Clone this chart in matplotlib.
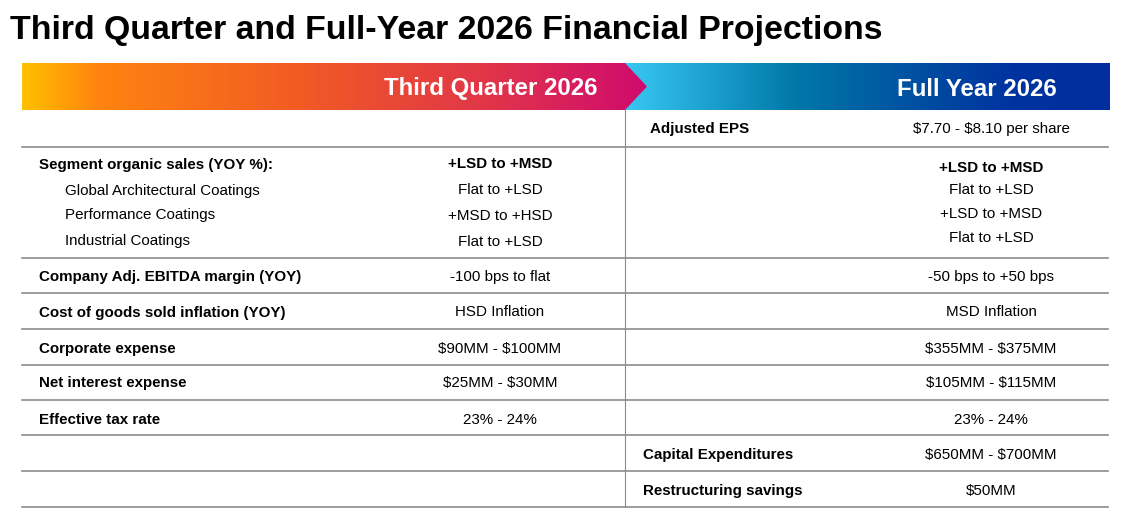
import numpy as np
import matplotlib
matplotlib.use("Agg")
import matplotlib.pyplot as plt
from matplotlib.colors import LinearSegmentedColormap
from matplotlib.patches import Polygon

plt.rcParams["font.family"] = ["Liberation Sans", "DejaVu Sans"]
plt.rcParams["text.parse_math"] = False

# Data
title = "Third Quarter and Full-Year 2026 Financial Projections"
q3_header = "Third Quarter 2026"
fy_header = "Full Year 2026"

q3_labels = [
    "Segment organic sales (YOY %):",
    "Global Architectural Coatings",
    "Performance Coatings",
    "Industrial Coatings",
    "Company Adj. EBITDA margin (YOY)",
    "Cost of goods sold inflation (YOY)",
    "Corporate expense",
    "Net interest expense",
    "Effective tax rate",
]
q3_values = [
    "+LSD to +MSD",
    "Flat to +LSD",
    "+MSD to +HSD",
    "Flat to +LSD",
    "-100 bps to flat",
    "HSD Inflation",
    "$90MM - $100MM",
    "$25MM - $30MM",
    "23% - 24%",
]
fy_values = [
    "+LSD to +MSD",
    "Flat to +LSD",
    "+LSD to +MSD",
    "Flat to +LSD",
    "-50 bps to +50 bps",
    "MSD Inflation",
    "$355MM - $375MM",
    "$105MM - $115MM",
    "23% - 24%",
]
fy_extra_labels = ["Adjusted EPS", "Capital Expenditures", "Restructuring savings"]
fy_extra_values = ["$7.70 - $8.10 per share", "$650MM - $700MM", "$50MM"]

# Layout (pixels)
W, H = 1126, 517
q3_y = [164.5, 190.5, 215.5, 241.5, 276.5, 312.5, 348.5, 383.5, 419.5]
fy_y = [167.5, 190.5, 213.5, 237.5, 276.5, 312.5, 348.5, 383.5, 419.5]
extra_y = [129.5, 454.5, 490.5]
extra_x = [650, 643, 643]
bold_rows = [0, 4, 5, 6, 7, 8]
indent_rows = [1, 2, 3]
hlines = [147, 258, 293, 329, 365, 400, 435, 471, 507]

fig = plt.figure(figsize=(W / 100, H / 100), dpi=100)
ax = fig.add_axes([0, 0, 1, 1])
ax.set_xlim(0, W)
ax.set_ylim(H, 0)
ax.axis("off")

# Title
ax.text(10, 39, title, fontsize=24.4, fontweight="bold", va="baseline", ha="left")

# Banner gradients
top, bot = 63, 110
left_cmap = LinearSegmentedColormap.from_list(
    "q3", [(0, "#FFC000"), (0.12, "#FF8410"), (0.45, "#F15A24"),
           (0.75, "#E0354A"), (1, "#D00A6E")])
right_cmap = LinearSegmentedColormap.from_list(
    "fy", [(0, "#38C8F2"), (0.35, "#0078A8"), (0.65, "#0048A0"),
           (0.8, "#0033A0"), (1, "#002E9E")])
grad = np.linspace(0, 1, 256).reshape(1, -1)

im_r = ax.imshow(grad, cmap=right_cmap, aspect="auto",
                 extent=(625, 1110, bot, top), zorder=1)
im_l = ax.imshow(grad, cmap=left_cmap, aspect="auto",
                 extent=(22, 647, bot, top), zorder=2)
arrow = Polygon([(22, top), (625, top), (647, (top + bot) / 2), (625, bot), (22, bot)],
                closed=True, facecolor="none", edgecolor="none")
ax.add_patch(arrow)
im_l.set_clip_path(arrow)
ax.set_xlim(0, W)
ax.set_ylim(H, 0)

ax.text(597, 89, q3_header, fontsize=17.3, fontweight="bold", color="white",
        ha="right", va="center", zorder=3)
ax.text(1057, 90, fy_header, fontsize=17.3, fontweight="bold", color="white",
        ha="right", va="center", zorder=3)

# Grid lines
for y in hlines:
    ax.plot([22, 1108], [y, y], color="#8c8c8c", lw=1.2, zorder=1)
ax.plot([625, 625], [110, 507], color="#8c8c8c", lw=0.8, zorder=1)

fs = 10.9
for i, (lab, val) in enumerate(zip(q3_labels, q3_values)):
    x = 65 if i in indent_rows else 39
    wt = "bold" if i in bold_rows else "normal"
    vwt = "bold" if i == 0 else "normal"
    ax.text(x, q3_y[i], lab, fontsize=fs, fontweight=wt, ha="left", va="center")
    ax.text(500, q3_y[i], val, fontsize=fs, fontweight=vwt, ha="center", va="center")

for i, val in enumerate(fy_values):
    vwt = "bold" if i == 0 else "normal"
    ax.text(991, fy_y[i], val, fontsize=fs, fontweight=vwt, ha="center", va="center")

for lab, val, x, y in zip(fy_extra_labels, fy_extra_values, extra_x, extra_y):
    ax.text(x, y, lab, fontsize=fs, fontweight="bold", ha="left", va="center")
    ax.text(991, y, val, fontsize=fs, ha="center", va="center")

fig.savefig("out.png", dpi=100)
